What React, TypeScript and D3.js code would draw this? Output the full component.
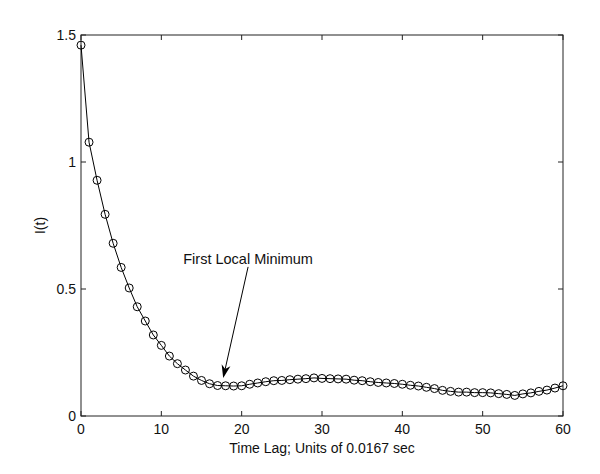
import React, { useRef, useEffect } from 'react';
import * as d3 from 'd3';

// I(t) values for time lags 0..60
const lags = d3.range(0, 61);
const info = [
  1.46, 1.078, 0.928, 0.794, 0.68, 0.585, 0.504, 0.43, 0.374, 0.319,
  0.278, 0.236, 0.206, 0.181, 0.157, 0.14, 0.127, 0.12, 0.119, 0.118,
  0.119, 0.125, 0.13, 0.135, 0.139, 0.14, 0.143, 0.145, 0.147, 0.15,
  0.148, 0.147, 0.146, 0.145, 0.141, 0.139, 0.135, 0.132, 0.13, 0.128,
  0.125, 0.121, 0.118, 0.113, 0.108, 0.101, 0.097, 0.094, 0.094, 0.092,
  0.092, 0.091, 0.088, 0.085, 0.081, 0.087, 0.091, 0.097, 0.102, 0.11,
  0.119,
];
const xTicks = [0, 10, 20, 30, 40, 50, 60];
const yTicks = [0, 0.5, 1, 1.5];

const App = () => {
  const svgRef = useRef<SVGSVGElement>(null);

  useEffect(() => {
    if (!svgRef.current) return;
    const svg = d3.select(svgRef.current);
    svg.selectAll('*').remove();

    const width = 600;
    const height = 474;
    const left = 81, right = 563, top = 35, bottom = 416;
    const font = 'Liberation Sans, Arial, sans-serif';

    svg.attr('width', width).attr('height', height);

    const x = d3.scaleLinear().domain([0, 60]).range([left, right]);
    const y = d3.scaleLinear().domain([0, 1.5]).range([bottom, top]);

    svg.append('rect').attr('width', width).attr('height', height).attr('fill', '#fff');

    // box
    svg.append('rect')
      .attr('x', left).attr('y', top)
      .attr('width', right - left).attr('height', bottom - top)
      .attr('fill', 'none').attr('stroke', '#222').attr('stroke-width', 1);

    const tickLen = 5;
    const g = svg.append('g').attr('stroke', '#222').attr('stroke-width', 1);
    xTicks.forEach(t => {
      g.append('line').attr('x1', x(t)).attr('x2', x(t)).attr('y1', bottom).attr('y2', bottom - tickLen);
      g.append('line').attr('x1', x(t)).attr('x2', x(t)).attr('y1', top).attr('y2', top + tickLen);
    });
    yTicks.forEach(t => {
      g.append('line').attr('x1', left).attr('x2', left + tickLen).attr('y1', y(t)).attr('y2', y(t));
      g.append('line').attr('x1', right).attr('x2', right - tickLen).attr('y1', y(t)).attr('y2', y(t));
    });

    svg.append('g').selectAll('text').data(xTicks).enter().append('text')
      .attr('x', d => x(d)).attr('y', bottom + 18)
      .attr('text-anchor', 'middle')
      .style('font-family', font).style('font-size', '14px').attr('fill', '#111')
      .text(d => d);

    svg.append('g').selectAll('text').data(yTicks).enter().append('text')
      .attr('x', left - 5).attr('y', d => y(d) + 5)
      .attr('text-anchor', 'end')
      .style('font-family', font).style('font-size', '14px').attr('fill', '#111')
      .text(d => d);

    svg.append('text')
      .attr('x', (left + right) / 2).attr('y', bottom + 37)
      .attr('text-anchor', 'middle')
      .style('font-family', font).style('font-size', '14px').attr('fill', '#111')
      .text('Time Lag; Units of 0.0167 sec');

    svg.append('text')
      .attr('transform', `translate(45, ${(top + bottom) / 2}) rotate(-90)`)
      .attr('text-anchor', 'middle')
      .style('font-family', font).style('font-size', '14px').attr('fill', '#111')
      .text('I(t)');

    // curve and markers
    const pts = lags.map((l, i) => [l, info[i]] as [number, number]);
    const line = d3.line<[number, number]>().x(d => x(d[0])).y(d => y(d[1]));
    svg.append('path').datum(pts)
      .attr('d', line).attr('fill', 'none').attr('stroke', '#000').attr('stroke-width', 1);

    svg.append('g').selectAll('circle').data(pts).enter().append('circle')
      .attr('cx', d => x(d[0])).attr('cy', d => y(d[1])).attr('r', 4)
      .attr('fill', 'none').attr('stroke', '#000').attr('stroke-width', 1);

    // annotation
    const from: [number, number] = [20.8, 0.587];
    const to: [number, number] = [17.7, 0.15];
    const x1 = x(from[0]), y1 = y(from[1]), x2 = x(to[0]), y2 = y(to[1]);
    const ang = Math.atan2(y2 - y1, x2 - x1);
    const headLen = 13, headW = 4.5, notch = 9;
    const bx = x2 - Math.cos(ang) * headLen, by = y2 - Math.sin(ang) * headLen;
    const nx = x2 - Math.cos(ang) * notch, ny = y2 - Math.sin(ang) * notch;
    const px = -Math.sin(ang) * headW, py = Math.cos(ang) * headW;
    svg.append('line')
      .attr('x1', x1).attr('y1', y1).attr('x2', nx).attr('y2', ny)
      .attr('stroke', '#000').attr('stroke-width', 1);
    svg.append('path')
      .attr('d', `M${x2},${y2}L${bx + px},${by + py}L${nx},${ny}L${bx - px},${by - py}Z`)
      .attr('fill', '#000');

    svg.append('text')
      .attr('x', x1).attr('y', y(0.6))
      .attr('text-anchor', 'middle')
      .style('font-family', font).style('font-size', '14.5px').attr('fill', '#111')
      .text('First Local Minimum');
  }, []);

  return (
    <div style={{ position: 'absolute', left: 0, top: 0 }}>
      <svg ref={svgRef}></svg>
    </div>
  );
};

export default App;
